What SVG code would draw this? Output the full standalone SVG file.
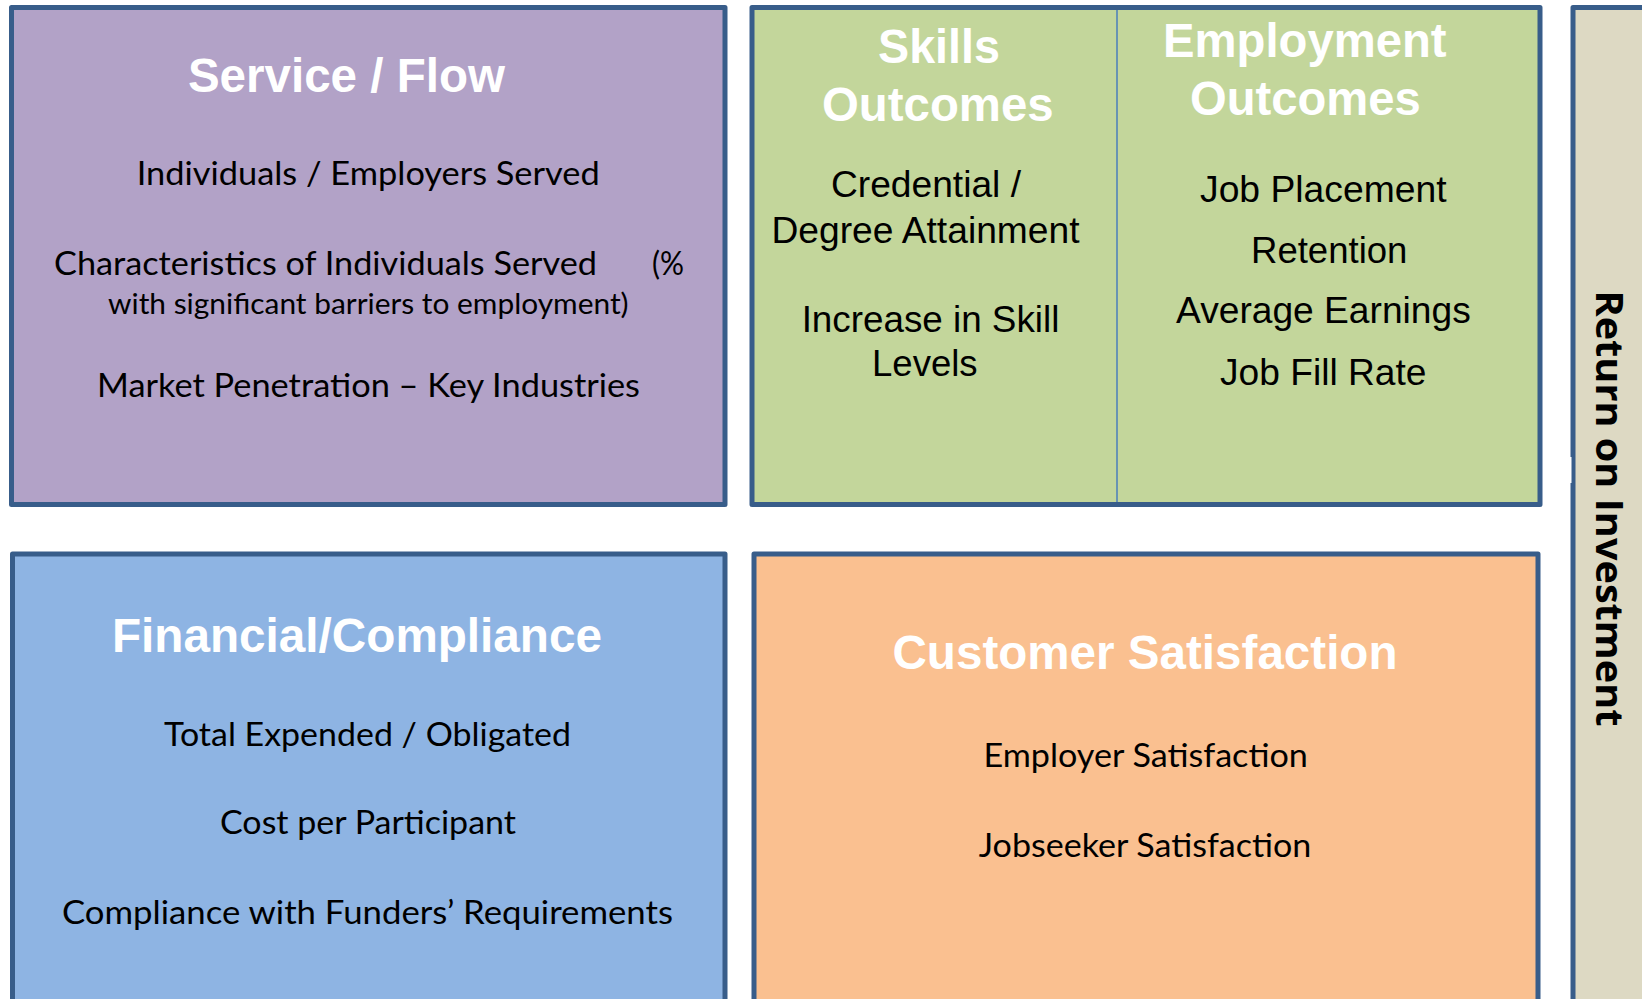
<svg xmlns="http://www.w3.org/2000/svg" width="1642" height="999" viewBox="0 0 1642 999">
<style>
.box{stroke:#385D8A;stroke-width:5;stroke-linejoin:round}
.title{font-family:"Liberation Sans",Arial,sans-serif;font-weight:bold;font-size:48px;fill:#FFFFFF;text-anchor:middle}
.ar{font-family:"Liberation Sans",Arial,sans-serif;font-size:36px;fill:#000000;text-anchor:middle}
.cal{font-family:Lato,"Open Sans",sans-serif;font-size:33px;fill:#000000}
.calsm{font-family:Lato,"Open Sans",sans-serif;font-size:29px;fill:#000000}
.roi{font-family:"Open Sans",Lato,sans-serif;font-weight:bold;font-size:38px;fill:#000000;text-anchor:middle}
</style>
<rect x="0" y="0" width="1642" height="999" fill="#FFFFFF"/>
<g id="return-on-investment">
<rect class="box" x="1573" y="7.5" width="100" height="1010" fill="#DDD9C3"/>
<rect x="1567" y="457" width="4.5" height="26" fill="#FFFFFF"/>
<text class="roi" transform="translate(1596,508.5) rotate(90)" textLength="436" lengthAdjust="spacingAndGlyphs">Return on Investment</text>
</g>
<g id="service-flow">
<rect class="box" x="11.5" y="7.5" width="713.5" height="497" fill="#B2A2C7"/>
<text class="title" x="346.4" y="92" textLength="317" lengthAdjust="spacingAndGlyphs">Service / Flow</text>
<text class="cal" x="136.7" y="185" textLength="463" lengthAdjust="spacingAndGlyphs">Individuals / Employers Served</text>
<text class="cal" x="54" y="275" textLength="543" lengthAdjust="spacingAndGlyphs">Characteristics of Individuals Served</text>
<text class="cal" x="652" y="275" textLength="32" lengthAdjust="spacingAndGlyphs">(%</text>
<text class="calsm" x="108" y="314" textLength="520.6" lengthAdjust="spacingAndGlyphs">with significant barriers to employment)</text>
<text class="cal" x="97" y="396.7" textLength="543" lengthAdjust="spacingAndGlyphs">Market Penetration – Key Industries</text>
</g>
<g id="outcomes">
<rect class="box" x="752" y="7.5" width="788" height="497" fill="#C3D69B"/>
<line x1="1117" y1="10" x2="1117" y2="502" stroke="#4A7EBB" stroke-width="1.5"/>
<g id="skills-outcomes">
<text class="title" x="939" y="63.3" textLength="122" lengthAdjust="spacingAndGlyphs">Skills</text>
<text class="title" x="937.8" y="120.7" textLength="231.6" lengthAdjust="spacingAndGlyphs">Outcomes</text>
<text class="ar" x="926" y="197.3" textLength="190" lengthAdjust="spacingAndGlyphs">Credential /</text>
<text class="ar" x="925.5" y="242.7" textLength="308" lengthAdjust="spacingAndGlyphs">Degree Attainment</text>
<text class="ar" x="930.5" y="331.7" textLength="257.7" lengthAdjust="spacingAndGlyphs">Increase in Skill</text>
<text class="ar" x="924.8" y="376" textLength="105.6" lengthAdjust="spacingAndGlyphs">Levels</text>
</g>
<g id="employment-outcomes">
<text class="title" x="1304.8" y="57.3" textLength="283.6" lengthAdjust="spacingAndGlyphs">Employment</text>
<text class="title" x="1305.4" y="115" textLength="230.7" lengthAdjust="spacingAndGlyphs">Outcomes</text>
<text class="ar" x="1323.3" y="201.7" textLength="246.6" lengthAdjust="spacingAndGlyphs">Job Placement</text>
<text class="ar" x="1329.2" y="263.3" textLength="156.4" lengthAdjust="spacingAndGlyphs">Retention</text>
<text class="ar" x="1323.4" y="323.3" textLength="294.7" lengthAdjust="spacingAndGlyphs">Average Earnings</text>
<text class="ar" x="1323.2" y="385" textLength="206.4" lengthAdjust="spacingAndGlyphs">Job Fill Rate</text>
</g>
</g>
<g id="financial-compliance">
<rect class="box" x="12.5" y="554" width="712.5" height="460" fill="#8EB4E3"/>
<text class="title" x="357" y="651.7" textLength="490" lengthAdjust="spacingAndGlyphs">Financial/Compliance</text>
<text class="cal" x="164" y="746" textLength="407" lengthAdjust="spacingAndGlyphs">Total Expended / Obligated</text>
<text class="cal" x="220" y="834.3" textLength="296" lengthAdjust="spacingAndGlyphs">Cost per Participant</text>
<text class="cal" x="62" y="924.3" textLength="611" lengthAdjust="spacingAndGlyphs">Compliance with Funders’ Requirements</text>
</g>
<g id="customer-satisfaction">
<rect class="box" x="754" y="554" width="784" height="460" fill="#FAC090"/>
<text class="title" x="1145" y="669.3" textLength="505" lengthAdjust="spacingAndGlyphs">Customer Satisfaction</text>
<text class="cal" x="983.4" y="767.3" textLength="324.5" lengthAdjust="spacingAndGlyphs">Employer Satisfaction</text>
<text class="cal" x="978.8" y="856.7" textLength="332.5" lengthAdjust="spacingAndGlyphs">Jobseeker Satisfaction</text>
</g>
<g id="connectors"/>
</svg>
